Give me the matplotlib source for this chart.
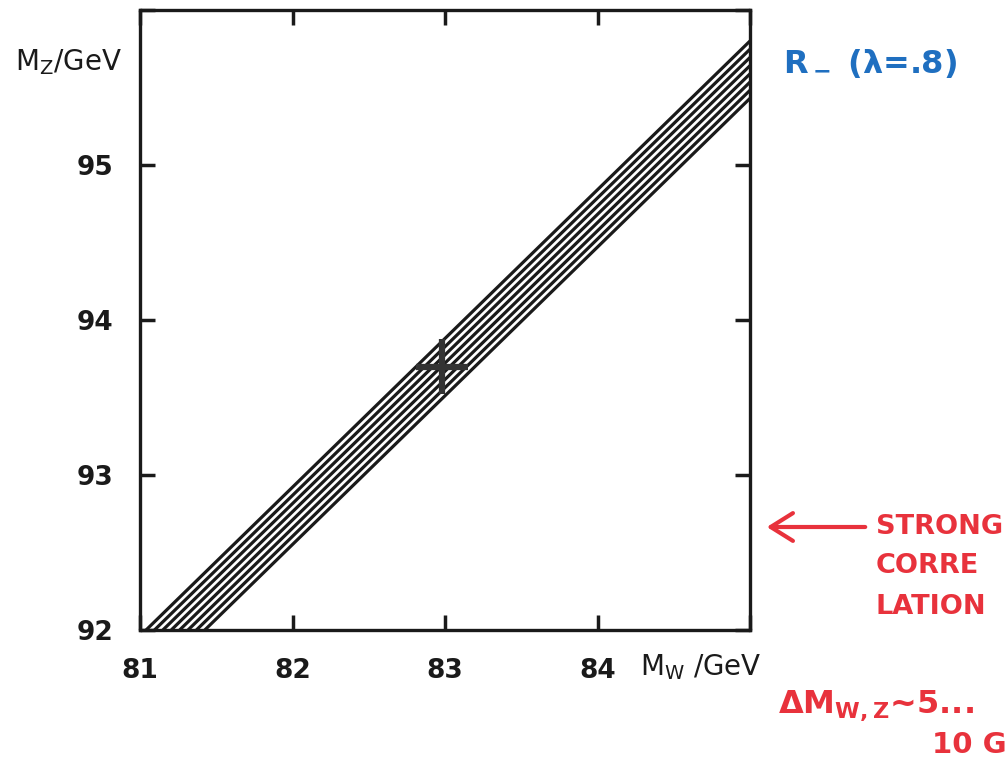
import matplotlib
matplotlib.use('Agg')
import matplotlib.pyplot as plt

plt.rcParams['mathtext.default'] = 'regular'

# hatched band: each line starts on M_Z = 92 and ends on M_W = 85
band_x_start = [81.04, 81.095, 81.15, 81.205, 81.26, 81.315, 81.37, 81.425]
band_y_end = [95.80, 95.747, 95.694, 95.641, 95.588, 95.535, 95.482, 95.43]
band_y_start = 92.0
band_x_end = 85.0

# central value with its error cross
mw_center = 82.98
mz_center = 93.70
mw_err = 0.17
mz_err = 0.18

x_ticks = [81, 82, 83, 84, 85]
x_ticklabels = ['81', '82', '83', '84', '']
y_ticks = [92, 93, 94, 95, 96]
y_ticklabels = ['92', '93', '94', '95', '']

W, H = 1008, 767
fig = plt.figure(figsize=(W / 100, H / 100), dpi=100)
ax = fig.add_axes([140 / W, 1 - 630 / H, 610 / W, 620 / H])

for x0, y1 in zip(band_x_start, band_y_end):
    ax.plot([x0, band_x_end], [band_y_start, y1], color='#1a1a1a', lw=2.3,
            solid_capstyle='butt')

ax.errorbar([mw_center], [mz_center], xerr=[mw_err], yerr=[mz_err], fmt='none',
            ecolor='#333333', elinewidth=4.5, capsize=0)

ax.set_xlim(81, 85)
ax.set_ylim(92, 96)
ax.set_xticks(x_ticks)
ax.set_xticklabels(x_ticklabels)
ax.set_yticks(y_ticks)
ax.set_yticklabels(y_ticklabels)
ax.tick_params(direction='in', length=11, width=2.5, top=True, right=True,
               labelsize=19, colors='#1a1a1a')
ax.tick_params(axis='x', pad=20)
ax.tick_params(axis='y', pad=19)
for lab in ax.get_xticklabels() + ax.get_yticklabels():
    lab.set_fontweight('bold')
for sp in ax.spines.values():
    sp.set_linewidth(2.4)
    sp.set_color('#1a1a1a')

# axis titles sit outside the frame
fig.text(15 / W, 1 - 62 / H, 'M$_Z$/GeV', fontsize=20,
         color='#1a1a1a', va='center', ha='left')
fig.text(640 / W, 1 - 667 / H, 'M$_W$ /GeV', fontsize=20,
         color='#1a1a1a', va='center', ha='left')

# handwritten notes
blue = '#1f6fc0'
red = '#e8323c'
fig.text(783 / W, 1 - 64 / H, r'R$_-$ ($\lambda$=.8)', fontsize=23, color=blue,
         va='center', ha='left', fontweight='bold')
fig.patches.append(matplotlib.patches.FancyArrowPatch(
    (868 / W, 1 - 527 / H), (764 / W, 1 - 527 / H), transform=fig.transFigure,
    arrowstyle='->,head_length=8,head_width=5', color=red, lw=3,
    mutation_scale=2))
fig.text(876 / W, 1 - 527 / H, 'STRONG', fontsize=19.5, color=red,
         va='center', ha='left', fontweight='bold')
fig.text(876 / W, 1 - 566 / H, 'CORRE', fontsize=19.5, color=red,
         va='center', ha='left', fontweight='bold')
fig.text(876 / W, 1 - 607 / H, 'LATION', fontsize=19.5, color=red,
         va='center', ha='left', fontweight='bold')
fig.text(778 / W, 1 - 706 / H, r'$\Delta$M$_{W,Z}$~5...', fontsize=23, color=red,
         va='center', ha='left', fontweight='bold')
fig.text(932 / W, 1 - 745 / H, '10 G', fontsize=21, color=red,
         va='center', ha='left', fontweight='bold')

fig.savefig('out.png', dpi=100, facecolor='white')
